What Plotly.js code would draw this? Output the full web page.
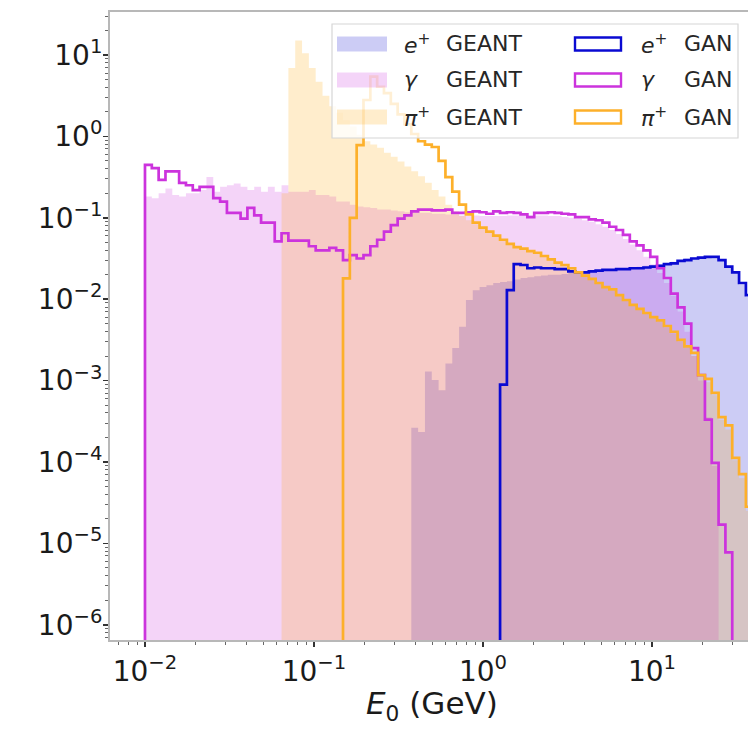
<!DOCTYPE html>
<html>
<head>
<meta charset="utf-8">
<script src="https://cdn.plot.ly/plotly-3.0.1.min.js"></script>
<style>
html,body{margin:0;padding:0;overflow:hidden;background:#fff;width:748px;height:729px;}
#chart{width:770px;height:729px;}
</style>
</head>
<body>
<div id="chart"></div>
<script>
// Histogram binning: 99 log-spaced bins from 0.01 to 100 GeV
const binMin = 0.01, binMax = 100, nBins = 99;

// Tick labels
const xTickVals = [0.01, 0.1, 1, 10];
const xTickText = ['10<sup>−2</sup>', '10<sup>−1</sup>', '10<sup>0</sup>', '10<sup>1</sup>'];
const yTickVals = [1e-6, 1e-5, 1e-4, 1e-3, 1e-2, 1e-1, 1, 10];
const yTickText = ['10<sup>−6</sup>', '10<sup>−5</sup>', '10<sup>−4</sup>', '10<sup>−3</sup>',
                   '10<sup>−2</sup>', '10<sup>−1</sup>', '10<sup>0</sup>', '10<sup>1</sup>'];
const xTitle = '<i>E</i><sub>0</sub> (GeV)';

// Series names
const names = ['e+ GEANT', 'γ GEANT', 'π+ GEANT', 'e+ GAN', 'γ GAN', 'π+ GAN'];

// e+ GEANT (first bin index 39)
const ePosGeantStart = 39;
const ePosGeant = [0.000263, 0.000234, 0.00129, 0.00102, 0.000759, 0.00162, 0.00251, 0.00457, 0.00977, 0.0129,
  0.0141, 0.0148, 0.0158, 0.0162, 0.0166, 0.0174, 0.0182, 0.0186, 0.0191, 0.0195,
  0.0200, 0.0200, 0.0204, 0.0209, 0.0214, 0.0219, 0.0224, 0.0224, 0.0229, 0.0234,
  0.0234, 0.0240, 0.0245, 0.0251, 0.0257, 0.0263, 0.0269, 0.0275, 0.0288, 0.0302,
  0.0316, 0.0324, 0.0331, 0.0331, 0.0316, 0.0295, 0.0251, 0.0209, 0.0151, 0.0107];

// gamma GEANT (first bin index 0)
const gammaGeantStart = 0;
const gammaGeant = [0.182, 0.174, 0.200, 0.229, 0.191, 0.182, 0.200, 0.200, 0.219, 0.316,
  0.209, 0.240, 0.251, 0.263, 0.240, 0.219, 0.240, 0.209, 0.240, 0.209,
  0.251, 0.209, 0.209, 0.209, 0.219, 0.191, 0.191, 0.182, 0.158, 0.158,
  0.145, 0.138, 0.135, 0.132, 0.126, 0.126, 0.123, 0.120, 0.117, 0.117,
  0.115, 0.115, 0.112, 0.112, 0.110, 0.110, 0.107, 0.107, 0.107, 0.105,
  0.105, 0.105, 0.105, 0.107, 0.107, 0.107, 0.107, 0.107, 0.107, 0.105,
  0.105, 0.102, 0.100, 0.0977, 0.0933, 0.0891, 0.0832, 0.0776, 0.0708, 0.0631,
  0.0550, 0.0468, 0.0398, 0.0331, 0.0269, 0.0209, 0.0158, 0.0110, 0.00708, 0.00398,
  0.00200, 0.00100, 0.000355, 0.0000891];

// pi+ GEANT (first bin index 20)
const piGeantStart = 20;
const piGeant = [0.200, 6.92, 15.1, 10.5, 6.92, 4.68, 3.16, 2.34, 1.95, 1.58,
  1.32, 1.05, 0.871, 0.794, 0.724, 0.631, 0.562, 0.490, 0.427, 0.372,
  0.324, 0.269, 0.219, 0.182, 0.145, 0.120, 0.105, 0.0933, 0.0832, 0.0741,
  0.0661, 0.0603, 0.0537, 0.0479, 0.0437, 0.0407, 0.0380, 0.0363, 0.0331, 0.0302,
  0.0275, 0.0257, 0.0234, 0.0209, 0.0191, 0.0174, 0.0155, 0.0138, 0.0126, 0.0110,
  0.00955, 0.00832, 0.00741, 0.00661, 0.00589, 0.00525, 0.00447, 0.00380, 0.00302, 0.00251,
  0.00200, 0.00112, 0.000955, 0.000661, 0.000331, 0.000251, 0.000105, 0.0000631, 0.0000251];

// e+ GAN (first bin index 52)
const ePosGanStart = 52;
const ePosGan = [0.000891, 0.0129, 0.0269, 0.0263, 0.0240, 0.0245, 0.0240, 0.0240, 0.0234, 0.0234,
  0.0219, 0.0214, 0.0214, 0.0219, 0.0224, 0.0229, 0.0229, 0.0234, 0.0234, 0.0240,
  0.0240, 0.0245, 0.0251, 0.0257, 0.0269, 0.0275, 0.0295, 0.0302, 0.0316, 0.0324,
  0.0331, 0.0331, 0.0302, 0.0251, 0.0214, 0.0158, 0.0112];

// gamma GAN (first bin index 0)
const gammaGanStart = 0;
const gammaGan = [0.447, 0.407, 0.292, 0.372, 0.372, 0.269, 0.251, 0.219, 0.240, 0.240,
  0.174, 0.158, 0.115, 0.115, 0.0977, 0.132, 0.107, 0.0871, 0.0871, 0.0513,
  0.0646, 0.0525, 0.0525, 0.0525, 0.0447, 0.0398, 0.0398, 0.0427, 0.0398, 0.0302,
  0.0347, 0.0316, 0.0347, 0.0447, 0.0537, 0.0676, 0.0813, 0.0977, 0.107, 0.120,
  0.126, 0.126, 0.123, 0.123, 0.126, 0.115, 0.115, 0.117, 0.120, 0.117,
  0.112, 0.120, 0.115, 0.117, 0.115, 0.110, 0.102, 0.115, 0.115, 0.117,
  0.115, 0.112, 0.110, 0.102, 0.102, 0.0955, 0.0933, 0.0871, 0.0776, 0.0708,
  0.0617, 0.0513, 0.0457, 0.0398, 0.0331, 0.0240, 0.0182, 0.0117, 0.00794, 0.00501,
  0.00251, 0.00117, 0.000331, 0.0000977, 0.0000170, 0.00000776];

// pi+ GAN (first bin index 29)
const piGanStart = 29;
const piGan = [0.018, 0.100, 0.783, 2.80, 5.41, 4.07, 3.39, 2.51, 1.86, 1.41, 1.07,
  0.871, 0.794, 0.741, 0.501, 0.316, 0.209, 0.145, 0.110, 0.0871, 0.0759,
  0.0676, 0.0603, 0.0537, 0.0479, 0.0437, 0.0417, 0.0389, 0.0372, 0.0339, 0.0309,
  0.0282, 0.0263, 0.0240, 0.0214, 0.0195, 0.0178, 0.0158, 0.0141, 0.0132, 0.0112,
  0.00977, 0.00851, 0.00759, 0.00676, 0.00603, 0.00550, 0.00468, 0.00398, 0.00316, 0.00263,
  0.00219, 0.00117, 0.00105, 0.000708, 0.000355, 0.000282, 0.000112, 0.0000708, 0.0000282];

// ---------- drawing ----------
const lmin = Math.log10(binMin), lmax = Math.log10(binMax);
function edge(k){ return Math.pow(10, lmin + (lmax - lmin) * k / nBins); }
const FLOOR = 1e-9;

function stepXY(start, vals){
  const x = [edge(start)], y = [FLOOR];
  vals.forEach((v, i) => { x.push(edge(start + i)); y.push(v > 0 ? v : FLOOR); });
  x.push(edge(start + vals.length)); y.push(FLOOR);
  return {x, y};
}

const fillE = 'rgba(0,0,205,0.2)';
const fillG = 'rgba(200,40,220,0.2)';
const fillP = 'rgba(255,165,0,0.2)';
const lineE = '#0a0ad2';
const lineG = '#cc33dd';
const lineP = '#fdb02a';

function filled(start, vals, color, name){
  const s = stepXY(start, vals);
  return {type:'scatter', mode:'lines', x:s.x, y:s.y, name:name,
    line:{shape:'hv', width:0, color:color}, fill:'toself', fillcolor:color,
    hoverinfo:'skip', showlegend:false};
}
function outline(start, vals, color, name){
  const s = stepXY(start, vals);
  return {type:'scatter', mode:'lines', x:s.x, y:s.y, name:name,
    line:{shape:'hv', width:2.7, color:color}, hoverinfo:'skip', showlegend:false};
}

const traces = [
  filled(ePosGeantStart, ePosGeant, fillE, names[0]),
  filled(gammaGeantStart, gammaGeant, fillG, names[1]),
  filled(piGeantStart, piGeant, fillP, names[2]),
  outline(ePosGanStart, ePosGan, lineE, names[3]),
  outline(gammaGanStart, gammaGan, lineG, names[4]),
  outline(piGanStart, piGan, lineP, names[5])
];

// minor tick positions (2..9 of each decade)
const xMinor = [], yMinor = [];
for (let d = -3; d <= 2; d++) for (let m = 2; m <= 9; m++) xMinor.push(m * Math.pow(10, d));
for (let d = -7; d <= 1; d++) for (let m = 2; m <= 9; m++) yMinor.push(m * Math.pow(10, d));

// layout geometry (pixels)
const L = 110, T = 12, W = 650, H = 628;
const px = v => (v - L) / W;
const py = v => (T + H - v) / H;

const FONT = 'DejaVu Sans, sans-serif';
const shapes = [];
const annotations = [];
// legend frame
shapes.push({type:'rect', xref:'paper', yref:'paper', x0:px(332), x1:px(738), y0:py(138), y1:py(24),
  fillcolor:'rgba(255,255,255,0.8)', line:{color:'#d6d6d6', width:1.2}, layer:'above'});
const rowsY = [44, 80, 117];
const geantFills = [fillE, fillG, fillP];
const ganLines = [lineE, lineG, lineP];
const symbols = ['<i>e</i><sup>+</sup>', '<i>γ</i>', '<i>π</i><sup>+</sup>'];
rowsY.forEach((ry, i) => {
  shapes.push({type:'rect', xref:'paper', yref:'paper', x0:px(337), x1:px(387), y0:py(ry + 7.5), y1:py(ry - 7.5),
    fillcolor:geantFills[i], line:{width:0}, layer:'above'});
  shapes.push({type:'rect', xref:'paper', yref:'paper', x0:px(575), x1:px(621), y0:py(ry + 6.5), y1:py(ry - 6.5),
    fillcolor:'rgba(0,0,0,0)', line:{color:ganLines[i], width:2.4}, layer:'above'});
  annotations.push({xref:'paper', yref:'paper', x:px(402), y:py(ry), xanchor:'left', yanchor:'middle',
    text:symbols[i], showarrow:false, font:{family:FONT, size:22, color:'#262626'}});
  annotations.push({xref:'paper', yref:'paper', x:px(444), y:py(ry), xanchor:'left', yanchor:'middle',
    text:'GEANT', showarrow:false, font:{family:FONT, size:22, color:'#262626'}});
  annotations.push({xref:'paper', yref:'paper', x:px(639), y:py(ry), xanchor:'left', yanchor:'middle',
    text:symbols[i], showarrow:false, font:{family:FONT, size:22, color:'#262626'}});
  annotations.push({xref:'paper', yref:'paper', x:px(682), y:py(ry), xanchor:'left', yanchor:'middle',
    text:'GAN', showarrow:false, font:{family:FONT, size:22, color:'#262626'}});
});
// x-axis title
annotations.push({xref:'paper', yref:'paper', x:px(432), y:py(705), xanchor:'center', yanchor:'middle',
  text:xTitle, showarrow:false, font:{family:FONT, size:31, color:'#1a1a1a'}});

const axisCommon = {
  type:'log', showline:true, linecolor:'#b8b8b8', linewidth:2, mirror:true,
  showgrid:false, zeroline:false, ticks:'outside', ticklen:5, tickwidth:1.5, tickcolor:'#333',
  tickmode:'array', tickfont:{family:FONT, size:28, color:'#1a1a1a'}
};

const layout = {
  width:770, height:729,
  margin:{l:L, r:770 - L - W, t:T, b:729 - T - H},
  paper_bgcolor:'#fff', plot_bgcolor:'#fff',
  showlegend:false,
  xaxis:Object.assign({}, axisCommon, {
    range:[-2.207, 1.639], tickvals:xTickVals, ticktext:xTickText,
    minor:{tickmode:'array', tickvals:xMinor, ticks:'outside', ticklen:3, tickwidth:1, tickcolor:'#666'},
    automargin:false
  }),
  yaxis:Object.assign({}, axisCommon, {
    range:[-6.187, 1.528], tickvals:yTickVals, ticktext:yTickText,
    minor:{tickmode:'array', tickvals:yMinor, ticks:'outside', ticklen:3, tickwidth:1, tickcolor:'#666'},
    ticklabelstandoff:-5,
    automargin:false
  }),
  shapes:shapes,
  annotations:annotations
};

Plotly.newPlot('chart', traces, layout, {staticPlot:true, displayModeBar:false});
</script>
</body>
</html>
